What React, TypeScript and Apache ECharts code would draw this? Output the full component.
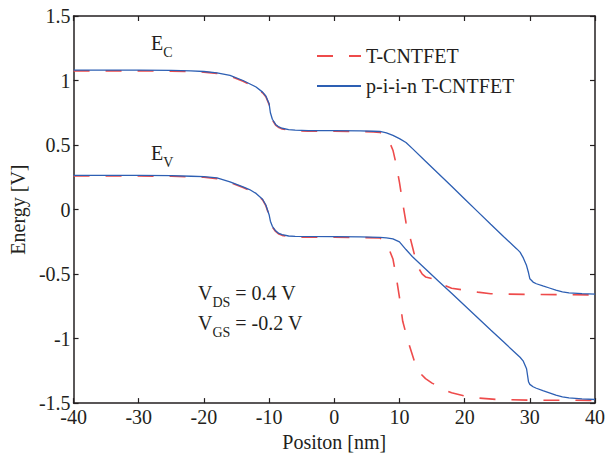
import React, { useEffect, useRef } from "react";
import * as echarts from "echarts";

// Axis ranges / ticks
const xMin = -40;
const xMax = 40;
const xStep = 10;
const yMin = -1.5;
const yMax = 1.5;
const yStep = 0.5;

// Conduction band, p-i-i-n T-CNTFET (solid blue)
const ecPiinX = [-40, -30, -25, -22, -20, -18, -16, -14, -13, -12, -11, -10.5, -10, -9.8, -9.5, -9, -8.5, -8, -7, -6, -4, 0, 4, 6, 7, 8, 9, 10, 11, 12, 14, 16, 18, 20, 22, 24, 26, 28, 28.5, 29, 29.5, 29.8, 30, 30.5, 31, 32, 33, 34, 35, 36, 38, 40];
const ecPiinY = [1.08, 1.08, 1.078, 1.075, 1.07, 1.06, 1.04, 1.0, 0.975, 0.95, 0.91, 0.88, 0.82, 0.75, 0.7, 0.66, 0.64, 0.63, 0.62, 0.615, 0.612, 0.612, 0.61, 0.607, 0.605, 0.595, 0.575, 0.55, 0.52, 0.472, 0.375, 0.278, 0.18, 0.082, -0.016, -0.114, -0.211, -0.305, -0.33, -0.375, -0.434, -0.49, -0.536, -0.562, -0.575, -0.592, -0.608, -0.625, -0.638, -0.645, -0.652, -0.656];

// Conduction band, T-CNTFET (dashed red)
const ecTX = [-40, -30, -25, -22, -20, -18, -16, -14, -13, -12, -11, -10.5, -10, -9.8, -9.5, -9, -8.5, -8, -7, -6, -4, 0, 4, 6, 7, 8, 8.5, 9, 9.5, 10, 10.5, 11, 11.5, 12, 12.5, 13, 13.5, 14, 15, 16, 17, 18, 20, 22, 24, 26, 30, 35, 40];
const ecTY = [1.075, 1.075, 1.073, 1.07, 1.065, 1.055, 1.035, 0.995, 0.97, 0.945, 0.905, 0.875, 0.815, 0.745, 0.695, 0.655, 0.635, 0.625, 0.615, 0.61, 0.607, 0.607, 0.605, 0.602, 0.598, 0.565, 0.52, 0.46, 0.35, 0.21, 0.05, -0.1, -0.19, -0.29, -0.39, -0.46, -0.5, -0.522, -0.535, -0.55, -0.59, -0.61, -0.625, -0.64, -0.652, -0.655, -0.658, -0.66, -0.662];

// Valence band, p-i-i-n T-CNTFET (solid blue)
const evPiinX = [-40, -30, -25, -22, -20, -18, -16, -14, -13, -12, -11, -10.5, -10, -9.8, -9.5, -9, -8.5, -8, -7, -6, 0, 4, 7, 8, 9, 10, 11, 12, 14, 16, 18, 20, 22, 24, 26, 28, 28.5, 29, 29.5, 29.8, 30, 30.5, 31, 32, 33, 34, 35, 36, 38, 40];
const evPiinY = [0.265, 0.265, 0.263, 0.258, 0.255, 0.245, 0.215, 0.175, 0.155, 0.125, 0.08, 0.035, -0.04, -0.09, -0.13, -0.165, -0.185, -0.195, -0.205, -0.208, -0.21, -0.212, -0.215, -0.22, -0.228, -0.25, -0.31, -0.366, -0.46, -0.555, -0.649, -0.744, -0.838, -0.933, -1.027, -1.121, -1.145, -1.175, -1.234, -1.335, -1.355, -1.373, -1.385, -1.403, -1.42, -1.438, -1.452, -1.46, -1.468, -1.472];

// Valence band, T-CNTFET (dashed red)
const evTX = [-40, -30, -25, -22, -20, -18, -16, -14, -13, -12, -11, -10.5, -10, -9.8, -9.5, -9, -8.5, -8, -7, -6, 0, 4, 7, 8, 8.5, 9, 9.5, 10, 10.5, 11, 11.5, 12, 12.5, 13, 14, 15, 16, 17, 18, 20, 22, 25, 30, 35, 40];
const evTY = [0.26, 0.26, 0.258, 0.253, 0.25, 0.24, 0.21, 0.17, 0.15, 0.12, 0.075, 0.03, -0.045, -0.095, -0.135, -0.17, -0.19, -0.2, -0.21, -0.213, -0.215, -0.217, -0.22, -0.26, -0.32, -0.383, -0.52, -0.68, -0.866, -0.96, -1.05, -1.13, -1.21, -1.26, -1.31, -1.345, -1.37, -1.4, -1.42, -1.445, -1.46, -1.472, -1.477, -1.478, -1.479];

const legendNames = ["T-CNTFET", "p-i-i-n T-CNTFET"];

const FONT = "Liberation Serif";
const INK = "#231f20";
const RED = "#ee4b4b";
const BLUE = "#2d5fb3";

const zip = (xs: number[], ys: number[]) => xs.map((x, i) => [x, ys[i]]);

export default function App() {
  const ref = useRef<HTMLDivElement>(null);

  useEffect(() => {
    if (!ref.current) return;
    document.body.style.margin = "0";
    const chart = echarts.init(ref.current, undefined, { renderer: "svg" });

    const axisLine = { show: true, onZero: false, lineStyle: { color: INK, width: 1.5 } };
    const axisTick = { show: true, inside: true, length: 5, lineStyle: { color: INK, width: 1.2 } };
    const labelStyle = { fontFamily: FONT, fontSize: 20, color: INK };

    const solid = { color: BLUE, width: 1.3, type: "solid" as const };
    const dashed = { color: RED, width: 1.6, type: [16, 16] as number[] };

    const sub = { fontFamily: FONT, fontSize: 14, color: INK, lineHeight: 14, padding: [12, 0, 0, 0], verticalAlign: "top" };
    const main = { fontFamily: FONT, fontSize: 20, color: INK, lineHeight: 20, verticalAlign: "top" };

    const mkText = (x: number, y: number, text: string) => ({
      type: "text",
      x,
      y,
      style: {
        text,
        rich: { m: main, s: sub },
        fill: INK,
        fontFamily: FONT,
        fontSize: 20,
        verticalAlign: "top",
      },
    });

    chart.setOption({
      animation: false,
      backgroundColor: "#ffffff",
      grid: { left: 72, right: 9, top: 16, bottom: 47, containLabel: false },
      legend: {
        data: legendNames,
        orient: "vertical",
        left: 316,
        top: 46,
        padding: 0,
        itemWidth: 44,
        itemHeight: 20,
        itemGap: 10,
        itemStyle: { opacity: 0 },
        textStyle: { ...labelStyle, padding: [0, 0, 0, 0] },
      },
      xAxis: [
        {
          type: "value",
          position: "bottom",
          min: xMin,
          max: xMax,
          interval: xStep,
          axisLine,
          axisTick,
          splitLine: { show: false },
          axisLabel: { ...labelStyle, margin: 4 },
          name: "Positon [nm]",
          nameLocation: "middle",
          nameGap: 20,
          nameTextStyle: labelStyle,
        },
        {
          type: "value",
          position: "top",
          min: xMin,
          max: xMax,
          interval: xStep,
          axisLine,
          axisTick,
          splitLine: { show: false },
          axisLabel: { show: false },
        },
      ],
      yAxis: [
        {
          type: "value",
          position: "left",
          min: yMin,
          max: yMax,
          interval: yStep,
          axisLine,
          axisTick,
          splitLine: { show: false },
          axisLabel: { ...labelStyle, margin: 3 },
          name: "Energy [V]",
          nameLocation: "middle",
          nameGap: 42,
          nameTextStyle: labelStyle,
        },
        {
          type: "value",
          position: "right",
          min: yMin,
          max: yMax,
          interval: yStep,
          axisLine,
          axisTick,
          splitLine: { show: false },
          axisLabel: { show: false },
        },
      ],
      series: [
        { name: legendNames[0], type: "line", symbol: "none", data: zip(ecTX, ecTY), lineStyle: dashed, itemStyle: { color: RED }, z: 2 },
        { name: legendNames[0], type: "line", symbol: "none", data: zip(evTX, evTY), lineStyle: dashed, itemStyle: { color: RED }, z: 2 },
        { name: legendNames[1], type: "line", symbol: "none", data: zip(ecPiinX, ecPiinY), lineStyle: solid, itemStyle: { color: BLUE }, z: 3 },
        { name: legendNames[1], type: "line", symbol: "none", data: zip(evPiinX, evPiinY), lineStyle: solid, itemStyle: { color: BLUE }, z: 3 },
      ],
      graphic: [
        mkText(151, 33, "{m|E}{s|C}"),
        mkText(151, 143, "{m|E}{s|V}"),
        mkText(198, 283, "{m|V}{s|DS}{m| = 0.4 V}"),
        mkText(198, 313, "{m|V}{s|GS}{m| = -0.2 V}"),
      ],
    });

    return () => chart.dispose();
  }, []);

  return <div ref={ref} style={{ width: 608, height: 457 }} />;
}
